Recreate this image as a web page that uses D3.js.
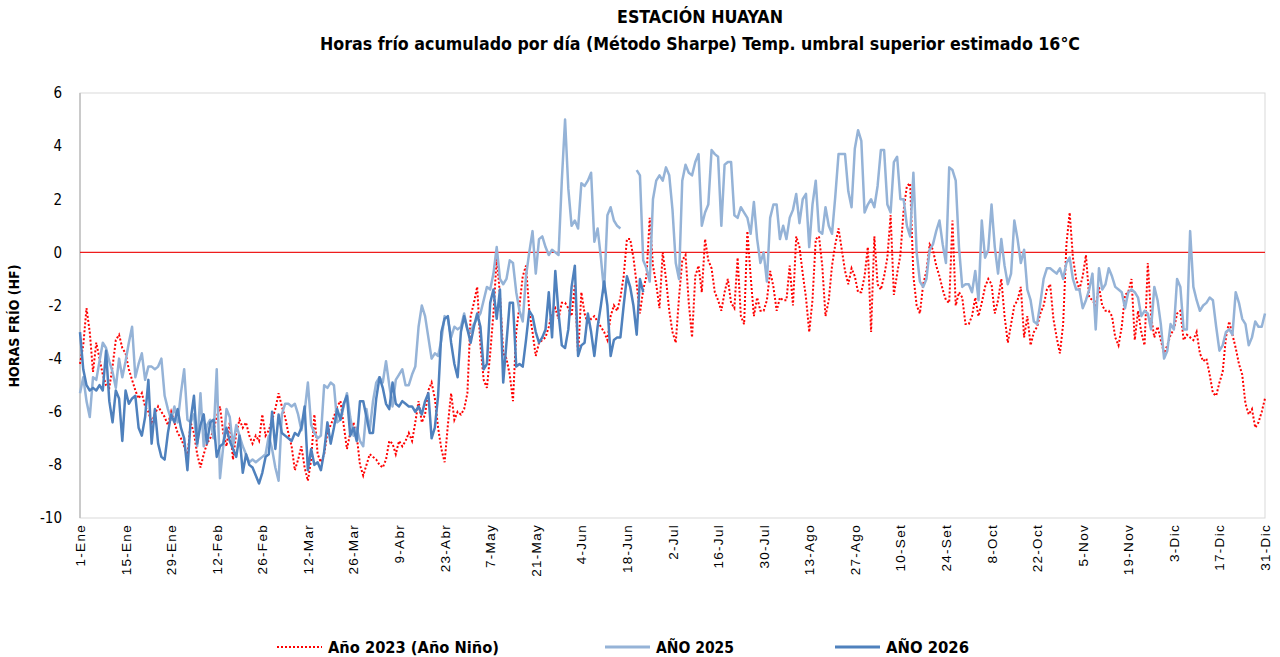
<!DOCTYPE html>
<html>
<head>
<meta charset="utf-8">
<script src="https://cdn.jsdelivr.net/npm/d3@7"></script>
<style>
    body { margin: 0; background: #fff; }
    #chart { width: 1280px; height: 657px; }
    .narrow { font-family: "Liberation Sans Narrow", "DejaVu Sans Condensed", "Open Sans", sans-serif; }
    .xtick { font-family: "Liberation Sans", Arial, sans-serif; }
</style>
</head>
<body>
<div id="chart"></div>
<script>
// x tick labels, one every 14 days
const tickLabels = ["1-Ene", "15-Ene", "29-Ene", "12-Feb", "26-Feb", "12-Mar", "26-Mar", "9-Abr", "23-Abr",
    "7-May", "21-May", "4-Jun", "18-Jun", "2-Jul", "16-Jul", "30-Jul", "13-Ago", "27-Ago", "10-Set",
    "24-Set", "8-Oct", "22-Oct", "5-Nov", "19-Nov", "3-Dic", "17-Dic", "31-Dic"];
const yTicks = [-10, -8, -6, -4, -2, 0, 2, 4, 6];

// Horas frio por dia - Año 2023 (Año Niño)
const anio2023 = [
    -4.2, -3.5, -2.1, -3.0, -4.5, -3.4, -4.0, -4.6, -5.0, -5.1, -4.3, -3.3, -3.1, -3.6,
    -3.8, -4.4, -4.8, -5.2, -5.5, -5.3, -5.8, -6.0, -6.4, -6.1, -5.8, -6.0, -6.2, -6.5,
    -6.0, -6.4, -6.8, -7.0, -7.3, -7.7, -6.4, -6.8, -7.6, -8.1, -7.6, -7.2, -7.0, -6.7,
    -6.2, -5.8, -6.8, -7.3, -6.4, -7.8, -6.8, -6.3, -6.6, -6.4, -6.9, -7.2, -6.9, -7.1,
    -6.1, -6.9, -6.7, -6.3, -5.9, -5.3, -5.8, -6.2, -6.8, -7.3, -8.2, -7.8, -7.3, -8.1,
    -8.6, -7.8, -6.1, -7.6, -7.9, -7.6, -6.8, -6.5, -6.2, -5.8, -5.6, -6.5, -7.4, -6.8,
    -6.4, -6.9, -8.0, -8.4, -8.0, -7.6, -7.7, -7.8, -8.0, -8.1, -7.8, -7.1, -7.2, -7.6,
    -7.1, -7.3, -7.1, -6.8, -7.1, -6.4, -5.6, -6.4, -6.1, -5.2, -4.9, -5.5, -6.6, -7.4,
    -7.9, -6.5, -5.3, -6.3, -6.0, -6.1, -5.9, -5.3, -2.4, -1.9, -1.3, -3.5, -4.8, -5.1,
    -3.8, -2.3, -0.2, -1.6, -3.8, -4.0, -4.6, -5.6, -3.0, -2.0, -0.9, -0.5, -2.2, -3.0,
    -3.9, -3.4, -3.3, -3.2, -2.8, -2.3, -2.1, -2.5, -1.9, -1.9, -2.1, -2.4, -1.2, -3.9,
    -1.5, -2.3, -2.7, -2.5, -2.4, -2.6, -2.8, -3.0, -3.3, -2.4, -2.0, -2.2, -1.7, -0.9,
    0.5, 0.5, -0.2, -1.2, -2.3, -1.4, -0.9, 1.3, -0.5, -1.2, -2.1, 0.0, -1.0, -2.2,
    -3.0, -3.4, -1.7, -0.3, -0.1, -1.9, -3.2, -0.9, -0.5, -1.5, 0.5, -0.3, -0.6, -1.5,
    -1.8, -2.2, -1.5, -1.0, -1.9, -2.1, -0.2, -2.4, -2.7, 0.8, -0.9, -2.4, -1.7, -2.2,
    -2.2, -1.8, -0.7, -1.3, -2.2, -1.7, -1.8, -1.8, -0.5, -2.0, 0.6, 0.2, -0.8, -1.7,
    -3.0, -1.8, 0.5, 0.6, -0.5, -2.4, -1.8, -0.5, 0.3, 0.9, 0.1, -0.7, -1.2, -0.6,
    -0.9, -1.5, -1.5, -0.9, 0.2, -3.0, 0.6, -1.2, -1.4, -0.9, -0.2, 1.4, -1.6, -0.8,
    -0.1, 1.6, 2.5, 2.6, -0.9, -2.0, -2.3, -1.2, -0.7, 0.3, 0.1, -0.5, -0.9, -1.4,
    -1.8, -1.9, 1.2, -2.0, -1.5, -1.7, -2.7, -2.7, -2.4, -1.7, -2.4, -1.9, -1.3, -1.0,
    -1.2, -2.3, -1.8, -1.0, -2.4, -3.4, -2.7, -2.0, -1.8, -1.3, -3.2, -2.4, -3.5, -3.0,
    -2.8, -2.3, -2.0, -1.4, -1.2, -2.5, -3.2, -3.8, -2.7, 0.3, 1.5, -0.2, -1.0, -1.4,
    -0.9, -0.1, -1.7, -1.8, -2.0, -1.3, -2.0, -2.2, -2.2, -2.4, -3.2, -3.5, -2.8, -1.6,
    -1.5, -1.0, -3.3, -2.2, -3.0, -3.5, -0.4, -2.4, -3.2, -2.8, -3.3, -3.8, -3.5, -3.1,
    -2.9, -2.3, -2.2, -3.3, -3.1, -3.2, -3.3, -3.0, -3.8, -4.1, -4.0, -4.6, -5.3, -5.4,
    -4.9, -4.5, -3.2, -2.6, -3.1, -3.6, -4.2, -4.6, -5.7, -6.1, -5.9, -6.6, -6.4, -6.0,
    -5.5
];

// AÑO 2025 (null = sin dato)
const anio2025 = [
    -5.3, -4.7, -5.6, -6.2, -4.7, -4.8, -4.1, -3.4, -3.6, -4.1, -4.5, -5.1, -4.0, -4.7,
    -4.1, -3.4, -2.8, -4.7, -4.2, -3.8, -4.8, -4.3, -4.3, -4.4, -4.3, -4.0, -5.4, -5.9,
    -6.3, -5.8, -6.4, -5.3, -4.4, -6.3, -6.4, -6.1, -7.3, -5.3, -7.3, -6.5, -6.3, -7.0,
    -4.4, -8.5, -7.3, -5.9, -6.2, -7.3, -6.5, -6.9, -7.3, -7.6, -7.9, -7.8, -7.9, -7.8,
    -7.7, -7.6, -6.9, -7.4, -8.1, -8.6, -6.1, -5.7, -5.7, -5.8, -5.7, -6.1, -6.7, -6.0,
    -4.9, -6.5, -6.8, -7.0, -6.9, -5.0, -5.1, -4.9, -5.0, -6.4, -6.3, -5.8, -5.3, -6.2,
    -6.9, -6.6, -7.1, -7.3, -5.9, -6.7, -5.6, -4.9, -4.7, -4.9, -4.1, -5.0, -5.8, -4.8,
    -4.6, -4.4, -5.0, -5.0, -4.6, -4.3, -2.8, -2.0, -2.4, -3.2, -4.0, -3.8, -3.9, -3.3,
    -2.4, -2.5, -3.2, -2.8, -2.9, -2.8, -2.3, -2.9, -3.0, -2.7, -2.5, -2.3, -1.8, -1.3,
    -1.4, -0.8, 0.2, -1.0, -1.2, -1.0, -0.3, -0.4, -1.5, -2.2, -2.6, -0.9, 0.0, 0.8,
    -0.8, 0.5, 0.6, 0.2, -0.1, 0.1, 0.0, -0.1, 2.7, 5.0, 2.4, 1.0, 1.2, 0.9,
    2.6, 2.5, 2.7, 3.0, 0.4, 0.9, -0.2, -1.5, 1.4, 1.7, 1.2, 1.0, 0.9, null,
    null, null, null, 3.1, 2.9, -0.3, -0.6, -1.1, 2.0, 2.7, 2.9, 2.7, 3.2, 2.9,
    1.6, -0.4, -1.0, 2.7, 3.3, 3.0, 2.9, 3.4, 3.7, 1.0, 1.5, 1.8, 3.85, 3.7,
    3.6, 1.0, 3.3, 3.4, 3.4, 1.4, 1.3, 1.7, 1.5, 1.3, 0.7, 1.9, 0.5, -0.4,
    0.0, -1.1, 1.3, 1.8, 1.8, 0.5, 1.0, 0.5, 1.3, 1.6, 2.2, 1.1, 2.0, 2.2,
    0.2, 1.8, 2.7, 0.8, 0.7, 1.7, 1.0, 0.7, 2.1, 3.7, 3.7, 3.7, 2.3, 1.7,
    3.9, 4.6, 4.2, 1.5, 1.8, 2.0, 1.7, 2.5, 3.85, 3.85, 1.8, 1.5, 3.4, 3.6,
    2.0, 2.0, 1.0, 0.6, 3.0, 0.0, -1.1, -1.3, -1.0, 0.1, 0.3, 0.8, 1.2, 0.3,
    -0.4, 3.2, 3.1, 2.7, 0.2, -1.3, -1.2, -1.2, -1.5, -0.7, -1.8, 1.2, -0.2, 0.1,
    1.8, 0.2, -0.8, 0.5, -0.5, -1.2, -0.8, 1.2, 0.5, -0.4, 0.1, -1.4, -1.8, -2.6,
    -2.7, -1.9, -1.0, -0.6, -0.6, -0.7, -0.8, -0.6, -1.0, -0.4, -0.2, -1.0, -1.4, -1.4,
    -2.1, -1.8, -1.4, -0.8, -2.9, -0.6, -1.4, -1.2, -0.6, -0.9, -1.3, -1.4, -1.5, -2.1,
    -1.5, -1.4, -1.5, -1.7, -2.4, -2.2, -2.3, -2.9, -1.3, -1.8, -2.7, -4.0, -3.7, -2.7,
    -2.9, -1.0, -1.3, -2.9, -2.9, 0.8, -1.3, -1.8, -2.2, -2.0, -1.9, -1.7, -1.8, -2.8,
    -3.7, -3.5, -3.0, -2.9, -3.1, -1.5, -1.9, -2.5, -2.7, -3.5, -3.2, -2.6, -2.8, -2.8,
    -2.3
];

// AÑO 2026 (hasta fines de junio)
const anio2026 = [
    -3.0, -4.4, -5.0, -5.2, -5.1, -5.2, -5.0, -5.2, -3.7, -5.6, -6.4, -5.2, -5.5, -7.1,
    -5.2, -5.7, -5.5, -5.4, -6.6, -6.9, -6.2, -4.8, -7.2, -5.9, -7.2, -7.7, -7.8, -6.8,
    -6.1, -6.4, -5.9, -6.6, -7.0, -8.2, -6.3, -5.4, -7.2, -6.5, -6.1, -7.2, -6.4, -6.3,
    -7.7, -7.3, -7.2, -6.6, -7.1, -7.4, -7.7, -6.9, -8.3, -7.6, -8.0, -8.1, -8.4, -8.7,
    -8.3, -7.7, -7.6, -6.0, -7.4, -6.1, -6.8, -6.9, -7.0, -7.1, -6.8, -6.9, -6.6, -5.8,
    -8.2, -7.4, -8.0, -7.9, -8.2, -7.5, -6.4, -7.2, -6.6, -5.9, -6.3, -5.7, -5.4, -6.9,
    -6.6, -7.1, -5.6, -5.6, -6.2, -6.8, -6.8, -5.5, -4.7, -5.1, -5.7, -5.9, -4.9, -5.7,
    -5.8, -5.6, -5.7, -5.8, -5.8, -6.0, -5.8, -6.1, -5.6, -5.3, -7.0, -6.6, -5.4, -3.0,
    -2.5, -2.4, -3.4, -4.2, -4.7, -3.0, -2.4, -2.9, -3.4, -2.8, -2.3, -2.8, -4.4, -4.2,
    -1.9, -1.4, -2.5, -1.4, -4.9, -3.4, -1.9, -1.9, -4.3, -4.2, -4.3, -3.3, -2.2, -2.4,
    -3.0, -3.4, -3.2, -2.9, -1.5, -3.2, -0.7, -2.3, -3.5, -3.6, -2.9, -1.3, -0.5, -3.9,
    -3.5, -3.4, -2.3, -3.0, -3.9, -2.8, -2.0, -1.1, -2.0, -3.9, -3.3, -3.2, -3.2, -2.0,
    -0.9, -1.3, -2.0, -3.1, -1.0, -1.5
];

const seriesNames = ["Año 2023 (Año Niño)", "AÑO 2025", "AÑO 2026"];

/**
 * Horas frio chart
 */
class HorasFrioChart {
    constructor(containerId) {
        this.container = document.getElementById(containerId);
        this.width = 1280;
        this.height = 657;
        this.margin = { top: 93, right: 15, bottom: 139, left: 80 };
        this.svg = null;
    }

    render() {
        const m = this.margin;
        this.svg = d3.select(this.container).append("svg")
            .attr("width", this.width)
            .attr("height", this.height);

        this.x = d3.scaleLinear().domain([0, 364]).range([m.left, this.width - m.right]);
        this.y = d3.scaleLinear().domain([-10, 6]).range([this.height - m.bottom, m.top]);

        this.drawTitles();
        this.drawFrame();
        this.drawAxes();
        this.drawSeries();
        this.drawLegend();
    }

    drawTitles() {
        this.svg.append("text")
            .attr("class", "narrow")
            .attr("x", 700).attr("y", 23)
            .attr("text-anchor", "middle")
            .attr("font-size", 17).attr("font-weight", "bold")
            .attr("textLength", 166).attr("lengthAdjust", "spacingAndGlyphs")
            .text("ESTACIÓN HUAYAN");
        this.svg.append("text")
            .attr("class", "narrow")
            .attr("x", 700).attr("y", 50)
            .attr("text-anchor", "middle")
            .attr("font-size", 17).attr("font-weight", "bold")
            .attr("textLength", 760).attr("lengthAdjust", "spacingAndGlyphs")
            .text("Horas frío acumulado por día (Método Sharpe) Temp. umbral superior estimado 16°C");
    }

    drawFrame() {
        const [x0, x1] = this.x.range();
        const [y0, y1] = this.y.range();
        this.svg.append("rect")
            .attr("x", x0).attr("y", y1)
            .attr("width", x1 - x0).attr("height", y0 - y1)
            .attr("fill", "none").attr("stroke", "#d9d9d9");
        this.svg.append("line")
            .attr("x1", x0).attr("x2", x0).attr("y1", y1).attr("y2", y0)
            .attr("stroke", "#bfbfbf").attr("stroke-width", 1.5);
    }

    drawAxes() {
        // y axis labels (plain hyphen like the original)
        const yAxis = d3.axisLeft(this.y).tickValues(yTicks).tickSize(0).tickPadding(18)
            .tickFormat(d => String(d));
        const gy = this.svg.append("g")
            .attr("transform", `translate(${this.x.range()[0]},0)`)
            .call(yAxis);
        gy.select(".domain").remove();
        gy.selectAll("text")
            .attr("class", "narrow")
            .attr("font-size", 15)
            .attr("fill", "#000");

        // x axis labels, rotated
        const xVals = tickLabels.map((d, i) => i * 14);
        const xAxis = d3.axisBottom(this.x).tickValues(xVals).tickSize(0)
            .tickFormat((d, i) => tickLabels[i]);
        const gx = this.svg.append("g")
            .attr("transform", `translate(0,${this.y.range()[0]})`)
            .call(xAxis);
        gx.select(".domain").remove();
        gx.selectAll("text")
            .attr("class", "xtick")
            .attr("font-size", 13.5)
            .attr("letter-spacing", 1.3)
            .attr("fill", "#000")
            .attr("text-anchor", "end")
            .attr("dominant-baseline", "central")
            .attr("y", 0).attr("dy", null)
            .attr("transform", "translate(0,6) rotate(-90)");

        // zero line
        this.svg.append("line")
            .attr("x1", this.x.range()[0]).attr("x2", this.x.range()[1])
            .attr("y1", this.y(0)).attr("y2", this.y(0))
            .attr("stroke", "#ee1c1c").attr("stroke-width", 1.3);

        // y axis title
        this.svg.append("text")
            .attr("class", "narrow")
            .attr("transform", "translate(19,326) rotate(-90)")
            .attr("text-anchor", "middle")
            .attr("font-size", 14).attr("font-weight", "bold")
            .text("HORAS  FRÍO (HF)");
    }

    drawSeries() {
        const self = this;
        const line = d3.line()
            .defined(d => d != null)
            .x((d, i) => self.x(i))
            .y(d => self.y(d));

        this.svg.append("path")
            .datum(anio2023)
            .attr("d", line)
            .attr("fill", "none")
            .attr("stroke", "#ff0000")
            .attr("stroke-width", 2)
            .attr("stroke-dasharray", "2,2");

        this.svg.append("path")
            .datum(anio2025)
            .attr("d", line)
            .attr("fill", "none")
            .attr("stroke", "#95b3d7")
            .attr("stroke-width", 2.5)
            .attr("stroke-linejoin", "round");

        this.svg.append("path")
            .datum(anio2026)
            .attr("d", line)
            .attr("fill", "none")
            .attr("stroke", "#4f81bd")
            .attr("stroke-width", 2.5)
            .attr("stroke-linejoin", "round");
    }

    drawLegend() {
        const items = [
            { name: seriesNames[0], x: 277, color: "#ff0000", dash: "2,2", w: 2, textLen: 171 },
            { name: seriesNames[1], x: 605, color: "#95b3d7", dash: null, w: 3, textLen: 78 },
            { name: seriesNames[2], x: 835, color: "#4f81bd", dash: null, w: 3, textLen: 83 }
        ];
        const g = this.svg.append("g").attr("transform", "translate(0,647)");
        items.forEach(it => {
            g.append("line")
                .attr("x1", it.x).attr("x2", it.x + 45)
                .attr("stroke", it.color).attr("stroke-width", it.w)
                .attr("stroke-dasharray", it.dash);
            g.append("text")
                .attr("class", "narrow")
                .attr("x", it.x + 51).attr("y", 0)
                .attr("dominant-baseline", "central")
                .attr("font-size", 16).attr("font-weight", "bold")
                .attr("textLength", it.textLen).attr("lengthAdjust", "spacingAndGlyphs")
                .text(it.name);
        });
    }
}

const chart = new HorasFrioChart("chart");
chart.render();
</script>
</body>
</html>
